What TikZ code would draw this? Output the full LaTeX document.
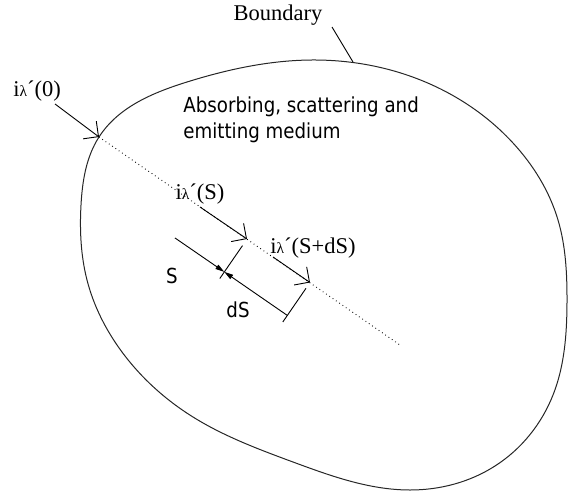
\documentclass[tikz,border=0pt]{standalone}
\usepackage{fontspec}
\setmainfont{Liberation Serif}
\newfontfamily\medfont[FakeStretch=0.88]{DejaVu Sans}
\usetikzlibrary{arrows.meta,hobby}
\newcommand{\ilam}{i{\fontsize{15.5}{15.5}\selectfont λ}´}

\begin{document}
\begin{tikzpicture}[x=1pt,y=-1pt,line width=0.9pt,
    every node/.style={inner sep=0pt},
    serif/.style={font=\fontsize{22.5}{25}\selectfont},
    sans/.style={font=\medfont\fontsize{20.7}{26}\selectfont,align=left},
    beam/.style={-{Straight Barb[length=11pt,width=22pt]}},
    dim/.style={-{Triangle[length=9pt,width=5pt]}},
    raypath/.style={dash pattern=on 0.8pt off 3.2pt}]
  \useasboundingbox (0,0) rectangle (569,492);
  % boundary of the medium
  \draw[line width=1pt,black!85,use Hobby shortcut,closed=true]
    (99,137) .. (187,82) .. (312,60) .. (430,84) .. (513,143) .. (558,220)
    .. (567,300) .. (553,395) .. (495,466) .. (410,490) .. (293,462)
    .. (193,417) .. (122,352) .. (87,280) .. (81,205);
  % points on the ray
  \coordinate (entry) at (99,137);
  \coordinate (s1) at (247,239);
  \coordinate (s2) at (310,282.5);
  \coordinate (rayend) at (400,345);
  \draw[raypath] (entry) -- (rayend);
  % labels
  \node[serif,anchor=base] (bnd) at (278,21) {Boundary};
  \node[serif,anchor=base] (i0) at (37,96) {\ilam(0)};
  \node[serif,anchor=base] (iS) at (200,199) {\ilam(S)};
  \node[serif,anchor=base] (iSdS) at (313,253) {\ilam(S+dS)};
  \node[sans,anchor=north west] (med) at (183,96) {Absorbing, scattering and\\emitting medium};
  \node[sans] (lS) at (172,276) {S};
  \node[sans] (ldS) at (238,310) {dS};
  % leader to the boundary
  \coordinate (bndtop) at (332,27);
  \coordinate (bndfoot) at (353,62);
  \draw (bndtop) -- (bndfoot);
  % intensities along the ray
  \coordinate (a0) at (55,104);
  \coordinate (a1) at (200,207);
  \coordinate (a2) at (273,257);
  \draw[beam] (a0) -- (entry);
  \draw[beam] (a1) -- (s1);
  \draw[beam] (a2) -- (s2);
  % ticks and distances
  \coordinate (t1a) at (242.5,245.6);
  \coordinate (t1b) at (219.8,278.5);
  \coordinate (t2a) at (306,288.3);
  \coordinate (t2b) at (282.8,322);
  \draw (t1a) -- (t1b);
  \draw (t2a) -- (t2b);
  \coordinate (d0) at (174.9,237.9);
  \coordinate (d1) at (224.3,271.9);
  \coordinate (d2) at (287.3,315.4);
  \draw[dim] (d0) -- (d1);
  \draw[dim,{Triangle[length=9pt,width=5pt]}-] (d1) -- (d2);
\end{tikzpicture}
\end{document}
